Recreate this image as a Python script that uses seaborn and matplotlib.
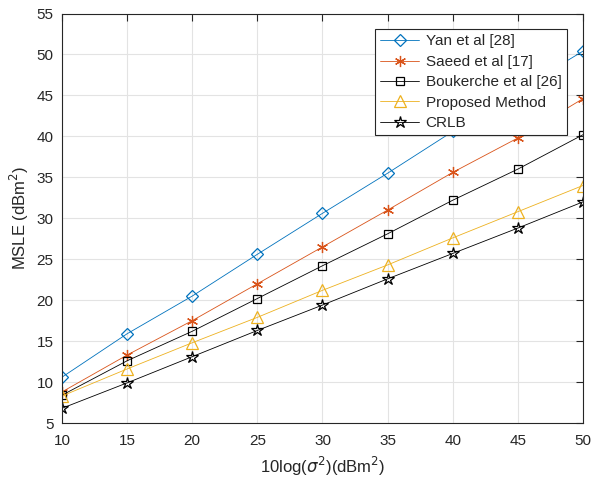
#recreate MSLE vs noise power chart

import pandas as pd
import matplotlib
matplotlib.use('Agg')
import matplotlib.pyplot as plt
import seaborn as sns

noise_db=[10,15,20,25,30,35,40,45,50]
yan=[10.6,15.9,20.5,25.6,30.6,35.5,40.6,45.6,50.4]
saeed=[8.8,13.3,17.5,22.0,26.5,31.0,35.6,39.8,44.6]
boukerche=[8.4,12.6,16.2,20.2,24.2,28.1,32.2,36.0,40.2]
proposed=[8.3,11.6,14.8,17.9,21.2,24.3,27.6,30.8,34.0]
crlb=[6.8,9.9,13.1,16.3,19.4,22.6,25.7,28.8,32.0]

series_names=['Yan et al [28]','Saeed et al [17]','Boukerche et al [26]','Proposed Method','CRLB']
series_vals=[yan,saeed,boukerche,proposed,crlb]
colors=['#0072BD','#D95319','#000000','#EDB120','#000000']
markers=['D',(6,2,0),'s','^','*']
msizes=[6.5,8,6,8.5,9]

def main():
    sns.set_style('white')
    plt.rcParams['font.family']=['Liberation Sans','DejaVu Sans']
    plt.rcParams['mathtext.fontset']='dejavusans'
    fig=plt.figure(figsize=(6.05,4.83),dpi=100)
    ax=fig.add_axes([0.1025,0.1242,0.861,0.8478])

    for name,vals,c,m,ms in zip(series_names,series_vals,colors,markers,msizes):
        df=pd.DataFrame({'x':noise_db,'y':vals})
        sns.lineplot(data=df,x='x',y='y',ax=ax,color=c,marker=m,markersize=ms,
                     markerfacecolor='none',markeredgecolor=c,markeredgewidth=0.9,
                     linewidth=0.6,label=name)

    ax.set_xlim(10,50)
    ax.set_ylim(5,55)
    ax.set_xticks(range(10,51,5))
    ax.set_yticks(range(5,56,5))
    ax.grid(True,color='#e3e3e3',linewidth=0.8)
    ax.set_axisbelow(True)
    for s in ax.spines.values():
        s.set_color('#262626')
        s.set_linewidth(0.8)
    ax.tick_params(direction='in',top=True,right=True,length=5,width=0.8,
                   colors='#262626',labelsize=11,labelcolor='#262626')
    ax.tick_params(axis='x',pad=8)
    ax.tick_params(axis='y',pad=6)
    ax.set_xlabel(r'10log($\sigma^2$)(dBm$^2$)',fontsize=12,color='#262626',labelpad=5)
    ax.set_ylabel(r'MSLE (dBm$^2$)',fontsize=12,color='#262626',labelpad=4)

    leg=ax.legend(loc='upper right',bbox_to_anchor=(0.969,0.962),fontsize=11,
                  frameon=True,fancybox=False,edgecolor='#262626',framealpha=1,
                  handlelength=2.5,handletextpad=0.45,labelspacing=0.42,borderpad=0.35,
                  borderaxespad=0)
    leg.get_frame().set_linewidth(0.8)

    fig.savefig('out.png',dpi=100)

if __name__ == '__main__':
    main()
